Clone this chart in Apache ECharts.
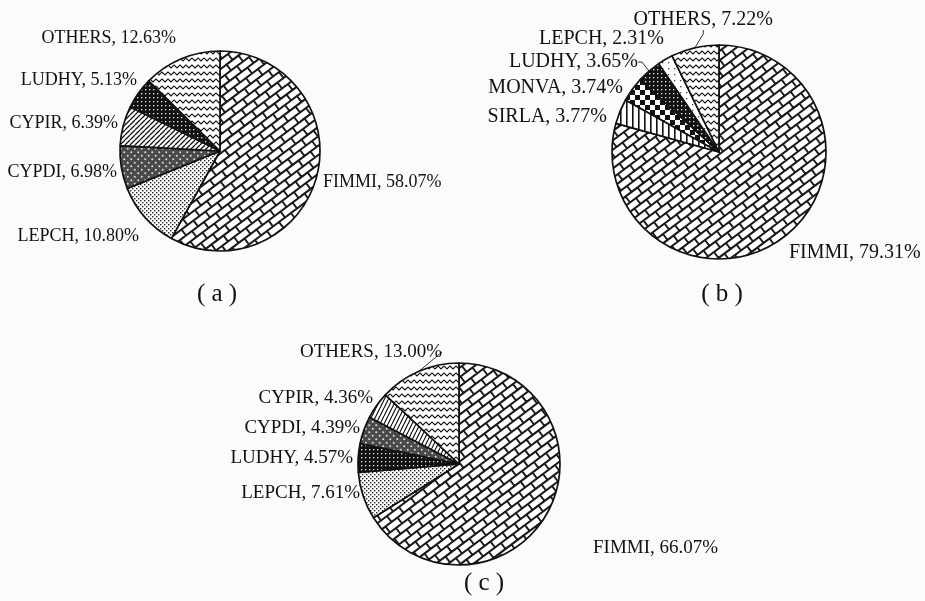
<!DOCTYPE html>
<html>
<head>
<meta charset="utf-8">
<script src="https://cdn.jsdelivr.net/npm/echarts@6/dist/echarts.min.js"></script>
<style>
  html, body { margin: 0; padding: 0; background: #fbfbfb; }
  #chart { width: 925px; height: 601px; }
</style>
</head>
<body>
<div id="chart"></div>
<script>
// species shares (%) for the three samples
const namesA = ['FIMMI', 'LEPCH', 'CYPDI', 'CYPIR', 'LUDHY', 'OTHERS'];
const valuesA = [58.07, 10.80, 6.98, 6.39, 5.13, 12.63];

const namesB = ['FIMMI', 'SIRLA', 'MONVA', 'LUDHY', 'LEPCH', 'OTHERS'];
const valuesB = [79.31, 3.77, 3.74, 3.65, 2.31, 7.22];

const namesC = ['FIMMI', 'LEPCH', 'LUDHY', 'CYPDI', 'CYPIR', 'OTHERS'];
const valuesC = [66.07, 7.61, 4.57, 4.39, 4.36, 13.00];

const panelTitles = ['( a )', '( b )', '( c )'];

const FONT = "'Liberation Serif', 'Times New Roman', serif";

// ---- fill patterns (drawn on small canvases) ----
function tile(w, h, draw) {
  const c = document.createElement('canvas');
  c.width = w; c.height = h;
  const ctx = c.getContext('2d');
  draw(ctx, w, h);
  return { image: c, repeat: 'repeat' };
}

// bricks tilted up-right (3:4 slope so the tile repeats seamlessly)
const patBrick = tile(75, 75, (ctx, w) => {
  ctx.fillStyle = '#fff'; ctx.fillRect(0, 0, w, w);
  const H = 7.5, L = 15;
  ctx.save();
  ctx.rotate(-Math.atan2(3, 4));
  ctx.strokeStyle = '#1a1a1a'; ctx.lineWidth = 2;
  ctx.beginPath();
  for (let j = -22; j <= 22; j++) {
    ctx.moveTo(-240, j * H); ctx.lineTo(240, j * H);
    const off = (((j % 2) + 2) % 2) ? L / 2 : 0;
    for (let i = -16; i <= 16; i++) {
      const u = i * L + off;
      ctx.moveTo(u, j * H); ctx.lineTo(u, (j + 1) * H);
    }
  }
  ctx.stroke();
  ctx.restore();
});

const patStipple = tile(4, 4, (ctx) => {
  ctx.fillStyle = '#fff'; ctx.fillRect(0, 0, 4, 4);
  ctx.fillStyle = '#222';
  ctx.fillRect(0, 0, 1.4, 1.4); ctx.fillRect(2, 2, 1.4, 1.4);
});

const patSparse = tile(6, 6, (ctx) => {
  ctx.fillStyle = '#fff'; ctx.fillRect(0, 0, 6, 6);
  ctx.fillStyle = '#444'; ctx.fillRect(2, 2, 1.3, 1.3);
});

const patGreyDots = tile(7, 7, (ctx) => {
  ctx.fillStyle = '#4a4a4a'; ctx.fillRect(0, 0, 7, 7);
  ctx.fillStyle = '#ddd';
  ctx.beginPath(); ctx.arc(1.75, 1.75, 1, 0, Math.PI * 2); ctx.fill();
  ctx.beginPath(); ctx.arc(5.25, 5.25, 1, 0, Math.PI * 2); ctx.fill();
});

const patBlackDots = tile(4, 4, (ctx) => {
  ctx.fillStyle = '#111'; ctx.fillRect(0, 0, 4, 4);
  ctx.fillStyle = '#eee'; ctx.fillRect(1, 1, 1.3, 1.3);
});

const patSlash = tile(5, 5, (ctx) => {
  ctx.fillStyle = '#fff'; ctx.fillRect(0, 0, 5, 5);
  ctx.strokeStyle = '#111'; ctx.lineWidth = 1.3;
  ctx.beginPath();
  for (let k = -5; k <= 5; k += 5) { ctx.moveTo(k, 5); ctx.lineTo(k + 5, 0); }
  ctx.stroke();
});

const patSteep = tile(4, 8, (ctx) => {
  ctx.fillStyle = '#fff'; ctx.fillRect(0, 0, 4, 8);
  ctx.strokeStyle = '#111'; ctx.lineWidth = 1.2;
  ctx.beginPath();
  for (let k = -4; k <= 4; k += 4) { ctx.moveTo(k, 8); ctx.lineTo(k + 4, 0); }
  ctx.stroke();
});

const patVert = tile(6, 6, (ctx) => {
  ctx.fillStyle = '#fff'; ctx.fillRect(0, 0, 6, 6);
  ctx.fillStyle = '#111'; ctx.fillRect(2, 0, 1.6, 6);
});

const patChecker = tile(10, 10, (ctx) => {
  ctx.fillStyle = '#fff'; ctx.fillRect(0, 0, 10, 10);
  ctx.fillStyle = '#111'; ctx.fillRect(0, 0, 5, 5); ctx.fillRect(5, 5, 5, 5);
});

const patWave = tile(6, 7, (ctx) => {
  ctx.fillStyle = '#fff'; ctx.fillRect(0, 0, 6, 7);
  ctx.strokeStyle = '#111'; ctx.lineWidth = 1.2;
  ctx.beginPath();
  ctx.moveTo(-3, 5); ctx.lineTo(0, 2); ctx.lineTo(3, 5); ctx.lineTo(6, 2); ctx.lineTo(9, 5);
  ctx.stroke();
});

const patA = [patBrick, patStipple, patGreyDots, patSlash, patBlackDots, patWave];
const patB = [patBrick, patVert, patChecker, patBlackDots, patSparse, patWave];
const patC = [patBrick, patStipple, patBlackDots, patGreyDots, patSteep, patWave];

// label anchor positions per panel: [x, y, align]
const labelPosA = [[323, 182, 'left'], [139, 236, 'right'], [117, 172, 'right'],
                   [118, 123, 'right'], [137, 80, 'right'], [176, 38, 'right']];
const labelPosB = [[789, 253, 'left'], [607, 117, 'right'], [623, 88, 'right'],
                   [638, 62, 'right'], [664, 39, 'right'], [773, 20, 'right']];
const labelPosC = [[593, 548, 'left'], [360, 493, 'right'], [353, 458, 'right'],
                   [360, 428, 'right'], [373, 398, 'right'], [442, 352, 'right']];

function pieSeries(names, values, pats, pos, center, radius, fontSize, lineIdx) {
  return {
    type: 'pie',
    center: center,
    radius: radius,
    startAngle: 90,
    clockwise: true,
    avoidLabelOverlap: false,
    silent: true,
    data: names.map((n, i) => ({
      name: n,
      value: values[i],
      itemStyle: { color: pats[i] },
      labelLine: { show: lineIdx.indexOf(i) >= 0 }
    })),
    itemStyle: { borderColor: '#111', borderWidth: 1.7 },
    label: {
      show: true,
      position: 'outside',
      color: '#111',
      fontFamily: FONT,
      fontSize: fontSize,
      formatter: p => p.name + ', ' + p.value.toFixed(2) + '%'
    },
    labelLine: { length: 4, length2: 4, lineStyle: { color: '#333', width: 1 } },
    labelLayout: p => ({
      x: pos[p.dataIndex][0],
      y: pos[p.dataIndex][1],
      align: pos[p.dataIndex][2],
      verticalAlign: 'middle'
    })
  };
}

const chart = echarts.init(document.getElementById('chart'), null, { renderer: 'canvas' });
chart.setOption({
  backgroundColor: '#fbfbfb',
  animation: false,
  title: [
    { text: panelTitles[0], left: 217, top: 282 },
    { text: panelTitles[1], left: 722, top: 282 },
    { text: panelTitles[2], left: 484, top: 571 }
  ].map(t => Object.assign(t, {
    textAlign: 'center',
    padding: 0,
    textStyle: { fontFamily: FONT, fontSize: 25, fontWeight: 'normal', color: '#111' }
  })),
  series: [
    pieSeries(namesA, valuesA, patA, labelPosA, [220, 151], 100, 18, []),
    pieSeries(namesB, valuesB, patB, labelPosB, [719, 152], 107, 20, [3, 5]),
    pieSeries(namesC, valuesC, patC, labelPosC, [459, 464], 101, 19, [5])
  ]
});
</script>
</body>
</html>
